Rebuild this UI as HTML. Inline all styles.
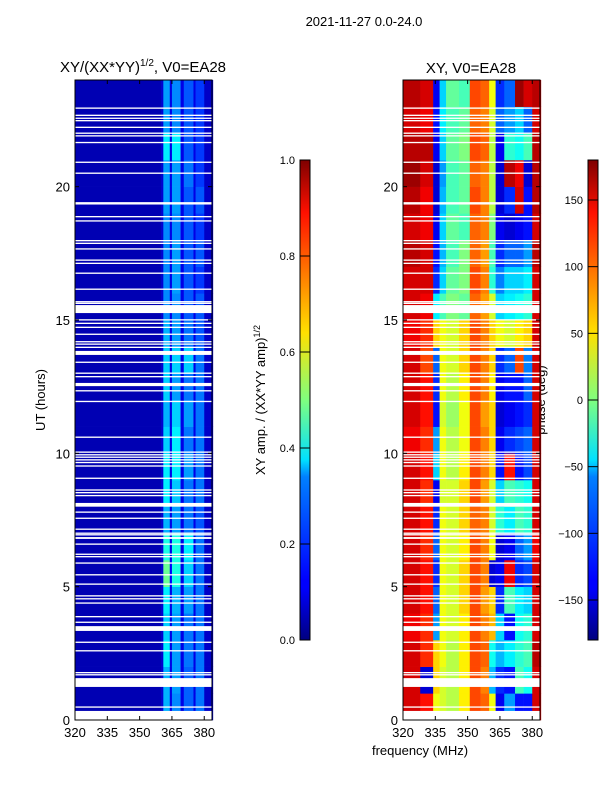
<!DOCTYPE html>
<html><head><meta charset="utf-8"><style>
body{margin:0;background:#fff;}
svg{display:block;font-family:"Liberation Sans",sans-serif;}
</style></head><body>
<svg id="fig" width="600" height="800" xmlns="http://www.w3.org/2000/svg">
<defs>
<linearGradient id="jetg" x1="0" y1="1" x2="0" y2="0">
<stop offset="0" stop-color="#00007f"/><stop offset="0.11" stop-color="#0000ff"/><stop offset="0.125" stop-color="#0000ff"/>
<stop offset="0.34" stop-color="#0080ff"/><stop offset="0.375" stop-color="#00e0ff"/><stop offset="0.5" stop-color="#7fff7f"/>
<stop offset="0.64" stop-color="#ffe000"/><stop offset="0.66" stop-color="#ffd000"/><stop offset="0.89" stop-color="#ff1000"/><stop offset="1" stop-color="#7f0000"/>
</linearGradient>
</defs>
<text x="364" y="26" font-size="13" text-anchor="middle">2021-11-27 0.0-24.0</text>
<text x="143" y="72" font-size="15" text-anchor="middle">XY/(XX*YY)<tspan font-size="10" dy="-6">1/2</tspan><tspan dy="6">, V0=EA28</tspan></text>
<text x="471" y="73" font-size="15" text-anchor="middle">XY, V0=EA28</text>
<text transform="translate(45,400) rotate(-90)" font-size="13" text-anchor="middle">UT (hours)</text>
<text x="420" y="755" font-size="13" text-anchor="middle">frequency (MHz)</text>
<text transform="translate(265,400) rotate(-90)" font-size="13" text-anchor="middle">XY amp. / (XX*YY amp)<tspan font-size="9" dy="-5">1/2</tspan></text>
<text transform="translate(545,400) rotate(-90)" font-size="13" text-anchor="middle">phase (deg)</text>
<g id="left"></g>
<g id="right"></g>
<g id="axes"></g>
<rect x="300" y="160" width="10" height="480" fill="url(#jetg)" stroke="#000"/>
<rect x="588" y="160" width="10" height="480" fill="url(#jetg)" stroke="#000"/>
<g id="cbars"></g>
</svg>
<script>
const freqTicks=[320,335,350,365,380];
const utTicks=[0,5,10,15,20];
const ampTicks=[0.0,0.2,0.4,0.6,0.8,1.0];
const phaseTicks=[-150,-100,-50,0,50,100,150];
const ampBins=[320,360,361,364,365,369,370.5,375,376,380,384];
const ampRows=[
[.05,.08,.3,.1,.26,.1,.22,.1,.24,.07],
[.05,.08,.3,.1,.28,.1,.22,.1,.24,.07],
[.05,.08,.36,.1,.28,.1,.24,.1,.24,.07],
[.05,.08,.33,.1,.28,.1,.24,.1,.24,.07],
[.05,.08,.36,.1,.3,.1,.28,.1,.24,.07],
[.05,.08,.48,.12,.4,.1,.33,.1,.24,.07],
[.05,.08,.4,.1,.4,.1,.36,.1,.24,.07],
[.05,.08,.3,.1,.28,.1,.24,.1,.21,.07],
[.05,.08,.36,.1,.32,.1,.24,.1,.24,.07],
[.05,.08,.36,.1,.36,.1,.28,.1,.24,.07],
[.05,.08,.33,.1,.36,.1,.24,.1,.24,.07],
[.05,.08,.3,.1,.33,.1,.28,.1,.24,.07],
[.05,.08,.33,.1,.28,.1,.24,.1,.24,.07],
[.05,.08,.33,.1,.33,.1,.33,.1,.24,.07],
[.05,.08,.3,.1,.28,.1,.24,.1,.21,.07],
[.05,.08,.26,.1,.26,.1,.21,.1,.21,.07],
[.05,.08,.26,.1,.28,.1,.21,.1,.18,.07],
[.05,.08,.26,.1,.28,.1,.21,.1,.21,.07],
[.05,.08,.26,.1,.26,.1,.21,.1,.18,.07],
[.05,.08,.28,.1,.28,.1,.21,.1,.21,.07],
[.05,.08,.28,.1,.28,.1,.24,.1,.18,.07],
[.05,.08,.36,.1,.36,.1,.21,.1,.18,.07],
[.05,.08,.28,.1,.26,.1,.21,.1,.18,.07],
[.05,.08,.28,.1,.26,.1,.21,.1,.18,.07]];
const phaseBins=[320,328,334,337,340,346,351,356,360,363,367,372,376,380,384];
const phaseRows=[
[150,130,40,30,20,50,110,100,40,-140,-80,-130,-130,150],
[150,-150,60,30,20,50,110,90,-70,-120,-130,-20,-40,150],
[150,120,60,40,20,50,110,100,-40,-70,-50,-30,-20,160],
[140,120,-80,40,30,50,110,90,70,-60,-130,-40,-30,150],
[150,130,-100,40,30,60,110,80,60,-120,-20,-50,-60,150],
[150,130,-120,40,30,60,110,90,-150,-140,140,-120,-110,150],
[150,120,-100,40,30,50,110,90,40,-150,-140,-100,-80,140],
[150,130,-120,40,30,60,100,90,30,-30,-50,-20,-30,150],
[150,120,-140,30,30,60,110,80,30,-60,-20,-30,-40,150],
[150,130,-60,40,20,50,110,90,60,-130,130,-130,-110,150],
[140,120,-80,40,20,40,110,90,60,-140,-120,-110,-100,150],
[150,130,-130,30,10,40,110,80,60,-150,-140,-130,-120,150],
[150,130,-120,40,20,50,110,90,50,-140,-130,-130,-100,150],
[150,110,-100,40,30,60,110,90,60,-120,-100,110,-90,150],
[140,120,60,40,30,60,110,90,60,40,30,50,60,150],
[150,140,-50,-20,0,-10,100,80,30,-60,-50,-40,-30,150],
[150,150,-120,-60,-10,0,110,90,-30,-90,-60,-60,-50,150],
[160,150,-130,-70,-20,0,100,80,-20,-120,-100,-100,-80,160],
[150,140,-140,-60,-10,-20,100,90,0,-140,-150,-140,-130,150],
[160,140,-150,-70,-20,-10,110,90,20,-150,-120,150,-130,160],
[170,150,-150,-80,-20,-10,100,90,20,-150,160,140,-150,160],
[160,160,-140,-60,-10,0,110,100,20,-140,-30,-40,-20,160],
[150,140,-130,-50,-20,-10,100,90,30,-100,-80,-60,-100,150],
[160,150,-140,-60,-10,-20,110,100,40,-120,-100,170,150,160]];
const gapStart=[22.92,22.65,22.54,22.45,22.2,21.98,21.88,21.63,20.89,20.48,19.33,18.85,18.69,17.95,17.85,17.64,17.22,17.1,16.73,16.13,15.66,15.6,15.26,14.98,14.85,14.7,14.44,14.16,14.07,13.95,13.69,13.39,12.98,12.85,12.52,12.32,11.92,10.58,10.02,9.92,9.83,9.73,9.63,9.5,9.04,8.6,8.5,8.39,8.0,7.77,7.54,7.13,6.98,6.92,6.79,6.57,6.19,6.1,5.86,5.42,5.07,4.63,4.52,4.36,3.85,3.64,3.34,2.89,2.57,1.75,1.67,1.24,0.46,0.0];
const gapEnd=[22.97,22.7,22.59,22.5,22.25,22.03,21.93,21.68,20.94,20.53,19.42,18.9,18.74,18.0,17.9,17.69,17.27,17.15,16.78,16.18,15.71,15.65,15.56,15.03,14.9,14.75,14.49,14.21,14.12,14.0,13.84,13.44,13.03,12.9,12.64,12.37,11.97,10.63,10.07,9.97,9.88,9.78,9.68,9.55,9.09,8.65,8.55,8.44,8.14,7.82,7.59,7.18,7.03,6.97,6.86,6.62,6.24,6.15,5.91,5.47,5.12,4.68,4.57,4.41,3.9,3.69,3.52,2.94,2.62,1.8,1.72,1.57,0.51,0.34];

const NS="http://www.w3.org/2000/svg";
const PX={L:75,R:403},PW=137,TOP=80,BOT=720;
function xs(panel,f){return PX[panel]+(f-320)*PW/63.6;}
function ys(u){return BOT-(u)*(BOT-TOP)/24;}
function jet(t){t=Math.max(0,Math.min(1,t));
 const r=Math.min(Math.max(Math.min(4*t-1.5,-4*t+4.5),0),1);
 const g=Math.min(Math.max(Math.min(4*t-0.5,-4*t+3.5),0),1);
 const b=Math.min(Math.max(Math.min(4*t+0.5,-4*t+2.5),0),1);
 return `rgb(${Math.round(r*255)},${Math.round(g*255)},${Math.round(b*255)})`;}
function mk(tag,attrs,parent){const e=document.createElementNS(NS,tag);for(const k in attrs)e.setAttribute(k,attrs[k]);parent.appendChild(e);return e;}
function drawHeat(g,panel,bins,rows,norm,name){
 rows.forEach((row,h)=>{row.forEach((v,j)=>{
  const x0=xs(panel,bins[j]),x1=xs(panel,bins[j+1]);
  const r=mk('rect',{x:x0,y:ys(h+1),width:x1-x0+0.3,height:ys(h)-ys(h+1)+0.3,fill:jet(norm(v))},g);
  
  
 });});
 gapStart.forEach((s,i)=>{
  const r=mk('rect',{x:PX[panel],y:ys(gapEnd[i]),width:PW,height:Math.max(1,ys(s)-ys(gapEnd[i])),fill:'#fff'},g);
  
  
 });
}
drawHeat(document.getElementById('left'),'L',ampBins,ampRows,v=>v,'amp-cell');
drawHeat(document.getElementById('right'),'R',phaseBins,phaseRows,v=>(v+180)/360,'phase-cell');

const ax=document.getElementById('axes');
['L','R'].forEach(p=>{
 const fr=mk('rect',{x:PX[p],y:TOP,width:PW,height:BOT-TOP,fill:'none',stroke:'#000','stroke-width':1},ax);
 
 
 freqTicks.forEach(f=>{const x=xs(p,f);
  mk('line',{x1:x,x2:x,y1:BOT,y2:BOT-4,stroke:'#000'},ax);
  mk('line',{x1:x,x2:x,y1:TOP,y2:TOP+4,stroke:'#000'},ax);
  const t=mk('text',{x:x,y:BOT+17,'font-size':13,'text-anchor':'middle'},ax);t.textContent=f;
  
  
 });
 utTicks.forEach(u=>{const y=ys(u);
  mk('line',{x1:PX[p],x2:PX[p]+4,y1:y,y2:y,stroke:'#000'},ax);
  mk('line',{x1:PX[p]+PW,x2:PX[p]+PW-4,y1:y,y2:y,stroke:'#000'},ax);
  const t=mk('text',{x:PX[p]-5,y:y+5,'font-size':13,'text-anchor':'end'},ax);t.textContent=u;
  
  
 });
});
const cb=document.getElementById('cbars');
ampTicks.forEach(v=>{const y=640-v*480;
 mk('line',{x1:300,x2:310,y1:y,y2:y,stroke:'#000'},cb);
 const t=mk('text',{x:295,y:y+4,'font-size':11,'text-anchor':'end'},cb);t.textContent=v.toFixed(1);
 
 
});
phaseTicks.forEach(v=>{const y=640-(v+180)*480/360;
 mk('line',{x1:588,x2:598,y1:y,y2:y,stroke:'#000'},cb);
 const t=mk('text',{x:583,y:y+4,'font-size':11,'text-anchor':'end'},cb);t.textContent=(v<0?'\u2212'+(-v):v);
 
 
});
</script>
</body></html>
